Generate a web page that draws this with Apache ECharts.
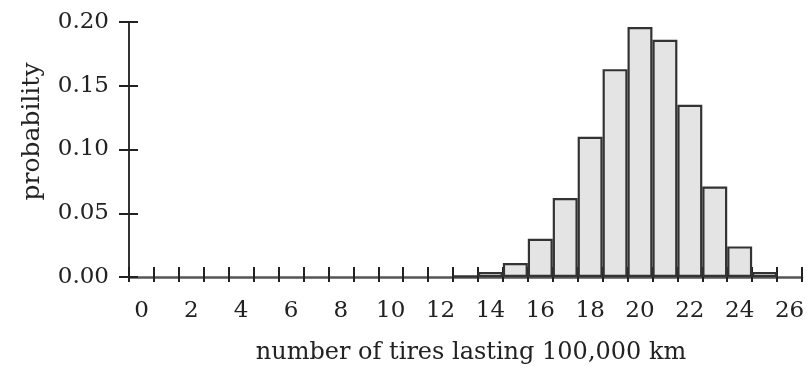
<!DOCTYPE html>
<html>
<head>
<meta charset="utf-8">
<script src="https://cdn.jsdelivr.net/npm/echarts@6/dist/echarts.min.js"></script>
<style>
  html, body { margin: 0; padding: 0; background: #fff; }
  #chart { width: 812px; height: 370px; }
</style>
</head>
<body>
<div id="chart"></div>
<script>
// Number of tires (out of 25) lasting 100,000 km, with their probabilities
const tireCounts = ['0','1','2','3','4','5','6','7','8','9','10','11','12','13','14','15','16','17','18','19','20','21','22','23','24','25','26'];
const probabilities = [null,null,null,null,null,null,null,null,null,null,null,null,null,
  0.001, 0.004, 0.011, 0.030, 0.062, 0.110, 0.163, 0.196, 0.186, 0.135, 0.071, 0.024, 0.004, null];
const yTicks = [0, 0.05, 0.10, 0.15, 0.20];

const serif = 'DejaVu Serif';
const ink = '#222';

const chart = echarts.init(document.getElementById('chart'), null, { renderer: 'canvas' });
chart.setOption({
  animation: false,
  backgroundColor: '#fff',
  grid: { left: 129, right: 10, top: 22, bottom: 92, containLabel: false },
  xAxis: [
    {
      type: 'category',
      data: tireCounts,
      boundaryGap: true,
      position: 'bottom',
      name: 'number of tires lasting 100,000 km',
      nameLocation: 'middle',
      nameGap: 64,
      nameTextStyle: { fontFamily: serif, fontSize: 24, color: ink, padding: [0, 0, 0, 11] },
      axisLine: { show: true, lineStyle: { color: '#555', width: 2.5 } },
      axisTick: { show: true, interval: 0, alignWithLabel: false, inside: false, length: 5,
                  lineStyle: { color: '#222', width: 2 } },
      axisLabel: { show: true, interval: 1, margin: 23, fontFamily: serif, fontSize: 23, color: ink },
      splitLine: { show: false }
    },
    {
      type: 'category',
      data: tireCounts,
      boundaryGap: true,
      position: 'bottom',
      offset: 0,
      axisLine: { show: false },
      axisTick: { show: true, interval: 0, alignWithLabel: false, inside: true, length: 10,
                  lineStyle: { color: '#222', width: 2 } },
      axisLabel: { show: false },
      splitLine: { show: false }
    }
  ],
  yAxis: [
    {
      type: 'value',
      min: yTicks[0],
      max: yTicks[yTicks.length - 1],
      interval: 0.05,
      position: 'left',
      name: 'probability',
      nameLocation: 'middle',
      nameGap: 84,
      nameTextStyle: { fontFamily: serif, fontSize: 25, color: ink, padding: [0, 0, 0, 36] },
      axisLine: { show: true, lineStyle: { color: '#333', width: 2 } },
      axisTick: { show: true, inside: false, length: 10, lineStyle: { color: '#222', width: 2 } },
      axisLabel: { margin: 20, fontFamily: serif, fontSize: 23, color: ink,
                   formatter: v => v.toFixed(2) },
      splitLine: { show: false }
    },
    {
      type: 'value',
      min: yTicks[0],
      max: yTicks[yTicks.length - 1],
      interval: 0.05,
      position: 'left',
      offset: 0,
      axisLine: { show: false },
      axisTick: { show: true, inside: true, length: 9, lineStyle: { color: '#222', width: 2 } },
      axisLabel: { show: false },
      splitLine: { show: false }
    }
  ],
  series: [
    {
      type: 'bar',
      data: probabilities,
      xAxisIndex: 0,
      yAxisIndex: 0,
      barWidth: '100%',
      barCategoryGap: 0,
      itemStyle: { color: '#e4e4e4', borderColor: '#333', borderWidth: 2.2 },
      z: 1
    },
    {
      // empty series so the inner-tick axes are laid out on the same grid
      type: 'line',
      data: [],
      xAxisIndex: 1,
      yAxisIndex: 1,
      silent: true
    }
  ]
});
</script>
</body>
</html>
